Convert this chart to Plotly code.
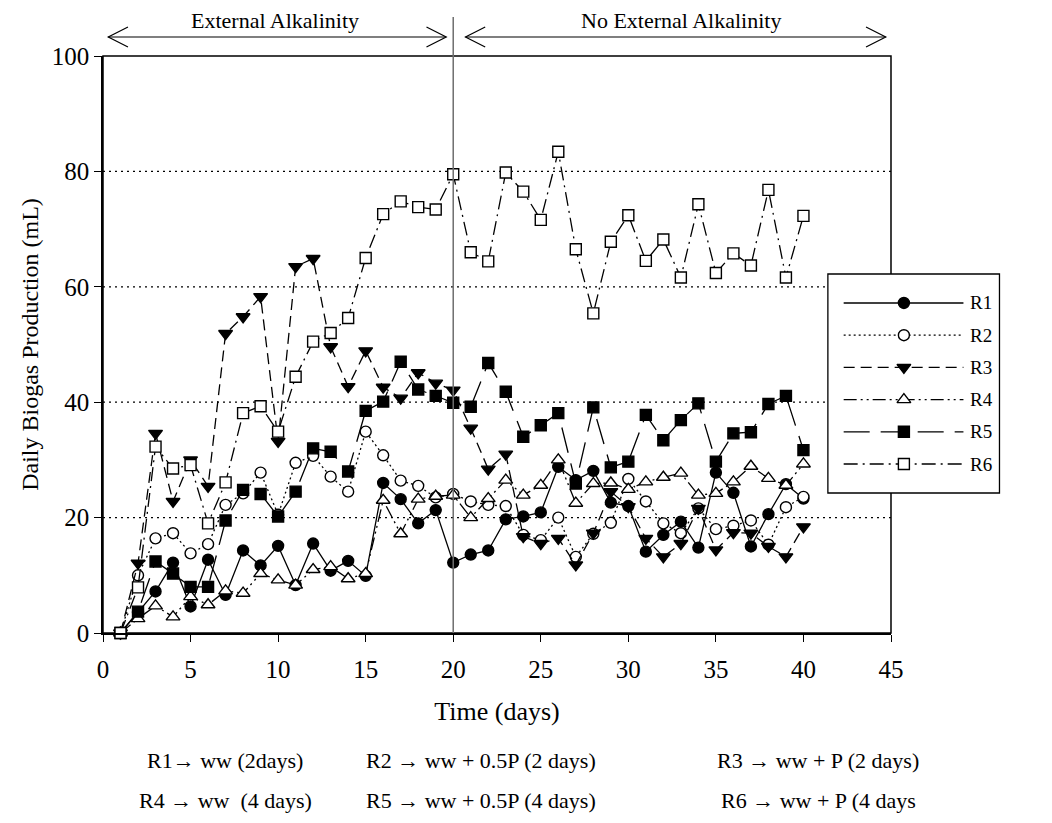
import plotly.graph_objects as go

days = list(range(1, 41))

R1 = [0, 3.5, 7.2, 12.2, 4.6, 12.7, 6.6, 14.3, 11.7, 15.1, 8.3, 15.5, 10.8, 12.5, 9.9, 26.0, 23.2, 19.0, 21.3, 12.2,
      13.6, 14.3, 19.7, 20.2, 20.9, 28.8, 26.5, 28.1, 22.6, 22.0, 14.1, 17.0, 19.3, 14.8, 27.8, 24.3, 15.0, 20.6, 25.8, 23.3]
R2 = [0, 10.0, 16.4, 17.3, 13.8, 15.4, 22.2, 24.2, 27.8, 20.5, 29.5, 30.7, 27.1, 24.5, 34.9, 30.8, 26.4, 25.5, 23.5, 24.1,
      22.8, 22.2, 22.0, 17.0, 16.1, 20.0, 13.2, 17.2, 19.1, 26.7, 22.8, 19.0, 17.3, 21.6, 18.0, 18.6, 19.5, 15.3, 21.8, 23.6]
R3 = [0, 12.1, 34.6, 22.8, 30.0, 25.4, 51.9, 54.8, 58.3, 33.2, 63.5, 64.9, 49.6, 42.7, 48.9, 42.6, 40.7, 45.1, 43.3, 42.1,
      35.5, 28.4, 31.0, 16.7, 15.5, 16.4, 11.8, 17.3, 24.5, 21.9, 16.4, 13.2, 15.5, 21.6, 14.4, 17.4, 17.3, 15.0, 13.2, 18.4]
R4 = [0, 2.5, 4.7, 2.8, 6.3, 4.9, 7.3, 6.9, 10.3, 9.2, 8.3, 11.0, 11.5, 9.4, 10.3, 23.0, 17.2, 23.2, 23.7, 23.9,
      20.0, 23.3, 26.5, 23.9, 25.6, 30.0, 22.5, 25.9, 26.0, 24.9, 26.2, 27.0, 27.7, 23.9, 24.2, 26.2, 28.9, 26.8, 25.6, 29.3]
R5 = [0, 3.7, 12.4, 10.3, 8.0, 8.0, 19.5, 24.8, 24.1, 20.2, 24.5, 32.0, 31.4, 28.0, 38.5, 40.1, 47.0, 42.2, 41.1, 39.9,
      39.2, 46.8, 41.8, 34.0, 36.0, 38.1, 25.9, 39.1, 28.7, 29.7, 37.8, 33.4, 36.9, 39.8, 29.7, 34.6, 34.8, 39.7, 41.1, 31.7]
R6 = [0, 7.9, 32.3, 28.5, 29.1, 19.0, 26.1, 38.1, 39.3, 34.9, 44.4, 50.5, 52.0, 54.6, 65.0, 72.6, 74.8, 73.8, 73.4, 79.5,
      66.0, 64.4, 79.8, 76.5, 71.6, 83.4, 66.5, 55.4, 67.8, 72.4, 64.5, 68.2, 61.6, 74.3, 62.4, 65.8, 63.7, 76.8, 61.6, 72.3]

names = ["R1", "R2", "R3", "R4", "R5", "R6"]
series = [R1, R2, R3, R4, R5, R6]
dashes = ["solid", "2px,3px", "11px,6px", "13px,4px,2px,4px,2px,4px", "26px,11px", "14px,5px,2px,5px"]
symbols = ["circle", "circle", "triangle-down", "triangle-up", "square", "square"]
fills = ["black", "white", "black", "white", "black", "white"]
sizes = [11, 11, 12, 12, 11, 11]

x_ticks = [0, 5, 10, 15, 20, 25, 30, 35, 40, 45]
y_ticks = [0, 20, 40, 60, 80, 100]
grid_vals = [20, 40, 60, 80]
X_MAX, Y_MAX = 45, 100
DIVIDER_DAY = 20

notes_row1 = ["R1\u2192 ww (2days)", "R2 \u2192 ww + 0.5P (2 days)", "R3 \u2192 ww + P (2 days)"]
notes_row2 = ["R4 \u2192 ww\u00a0 (4 days)", "R5 \u2192 ww + 0.5P (4 days)", "R6 \u2192 ww + P (4 days"]

FONT = "Liberation Serif, Times New Roman, serif"

L, R, T, B = 103, 5, 56, 190
W, H = 1052, 823
pw = W - L - R
ph = H - T - B
plot_right = 902
leg_x0, leg_x1, leg_y0, leg_y1 = 838, 1012, 274, 493


def px_x(p):
    return (p - L) / pw


def px_y(p):
    return (H - B - p) / ph


XDOM = px_x(plot_right)


def xp(d):
    # data day -> paper x
    return d / X_MAX * XDOM


fig = go.Figure()

for name, vals, dash, sym, fc, sz in zip(names, series, dashes, symbols, fills, sizes):
    fig.add_trace(go.Scatter(
        x=days, y=vals, name=name, mode="lines+markers",
        line=dict(color="black", width=1.3, dash=dash),
        marker=dict(symbol=sym, size=sz, color=fc, line=dict(color="black", width=1.4)),
        showlegend=False, xaxis="x", yaxis="y", cliponaxis=False,
    ))

# custom legend on its own small axes
for i, (name, dash, sym, fc, sz) in enumerate(zip(names, dashes, symbols, fills, sizes)):
    fig.add_trace(go.Scatter(
        x=[0.092, 0.79], y=[i, i], mode="lines",
        line=dict(color="black", width=1.3, dash=dash),
        showlegend=False, xaxis="x2", yaxis="y2", hoverinfo="skip",
    ))
    fig.add_trace(go.Scatter(
        x=[0.443], y=[i], mode="markers",
        marker=dict(symbol=sym, size=sz, color=fc, line=dict(color="black", width=1.4)),
        showlegend=False, xaxis="x2", yaxis="y2", hoverinfo="skip",
    ))
    fig.add_annotation(x=0.895, y=i, xref="x2", yref="y2", text=name, showarrow=False,
                       font=dict(family=FONT, size=19, color="black"), xanchor="center", yanchor="middle")

fig.update_layout(
    width=W, height=H,
    margin=dict(l=L, r=R, t=T, b=B),
    paper_bgcolor="white", plot_bgcolor="rgba(0,0,0,0)",
    font=dict(family=FONT, size=24, color="black"),
    xaxis=dict(domain=[0, XDOM], range=[0, X_MAX], tickvals=x_ticks, ticks="outside",
               ticklen=7, tickwidth=1.3, tickcolor="black", showgrid=False, zeroline=False,
               showline=True, linecolor="black", linewidth=1.5, ticklabelstandoff=6,
               tickfont=dict(family=FONT, size=25),
               title=dict(text="Time (days)", font=dict(family=FONT, size=26), standoff=20)),
    yaxis=dict(domain=[0, 1], range=[0, Y_MAX], tickvals=y_ticks, ticks="outside",
               ticklen=7, tickwidth=1.3, tickcolor="black", showgrid=False, zeroline=False,
               showline=True, linecolor="black", linewidth=1.5,
               tickfont=dict(family=FONT, size=25),
               title=dict(text="Daily Biogas Production (mL)", font=dict(family=FONT, size=24), standoff=6)),
    xaxis2=dict(domain=[px_x(leg_x0), px_x(leg_x1)], range=[0, 1], visible=False, anchor="y2"),
    yaxis2=dict(domain=[px_y(leg_y1), px_y(leg_y0)], range=[5.9, -0.9], visible=False, anchor="x2"),
)

# dotted gridlines (paper coords, derived from axis range)
for g in grid_vals:
    fig.add_shape(type="line", xref="paper", yref="paper", x0=0, x1=XDOM, y0=g / Y_MAX, y1=g / Y_MAX,
                  line=dict(color="black", width=1.2, dash="2px,4px"), layer="below")
# plot frame
fig.add_shape(type="rect", xref="paper", yref="paper", x0=0, x1=XDOM, y0=0, y1=1,
              line=dict(color="black", width=1.5), fillcolor="rgba(0,0,0,0)", layer="below")
# legend box (covers gridlines and right border)
fig.add_shape(type="rect", xref="paper", yref="paper", x0=px_x(leg_x0), x1=px_x(leg_x1),
              y0=px_y(leg_y1), y1=px_y(leg_y0),
              line=dict(color="black", width=1.3), fillcolor="white", layer="below")

# vertical divider at day 20
fig.add_shape(type="line", xref="paper", yref="paper", x0=xp(DIVIDER_DAY), x1=xp(DIVIDER_DAY),
              y0=0, y1=px_y(17), line=dict(color="#6e6e6e", width=1.5), layer="above")

# double arrows above the plot
arrow_y = px_y(37)
arm_dx = 20 / pw
arm_dy = 10 / ph
for d0, d1 in [(0.3, 19.6), (20.7, 44.7)]:
    a, b = xp(d0), xp(d1)
    fig.add_shape(type="line", xref="paper", yref="paper", x0=a, x1=b, y0=arrow_y, y1=arrow_y,
                  line=dict(color="black", width=1.2), layer="above")
    fig.add_shape(type="path", xref="paper", yref="paper",
                  path=f"M {a + arm_dx},{arrow_y + arm_dy} L {a},{arrow_y} L {a + arm_dx},{arrow_y - arm_dy}",
                  line=dict(color="black", width=1.2), layer="above")
    fig.add_shape(type="path", xref="paper", yref="paper",
                  path=f"M {b - arm_dx},{arrow_y + arm_dy} L {b},{arrow_y} L {b - arm_dx},{arrow_y - arm_dy}",
                  line=dict(color="black", width=1.2), layer="above")

fig.add_annotation(x=xp(9.8), y=px_y(20), xref="paper", yref="paper", text="External Alkalinity",
                   showarrow=False, font=dict(family=FONT, size=22), xanchor="center", yanchor="middle")
fig.add_annotation(x=xp(33.0), y=px_y(20), xref="paper", yref="paper", text="No External Alkalinity",
                   showarrow=False, font=dict(family=FONT, size=22), xanchor="center", yanchor="middle")

row_x = [227, 486, 828]
for txt, cx in zip(notes_row1, row_x):
    fig.add_annotation(x=px_x(cx), y=px_y(760), xref="paper", yref="paper", text=txt, showarrow=False,
                       font=dict(family=FONT, size=22), xanchor="center", yanchor="middle")
for txt, cx in zip(notes_row2, row_x):
    fig.add_annotation(x=px_x(cx), y=px_y(800), xref="paper", yref="paper", text=txt, showarrow=False,
                       font=dict(family=FONT, size=22), xanchor="center", yanchor="middle")

fig.write_html("out.html")
